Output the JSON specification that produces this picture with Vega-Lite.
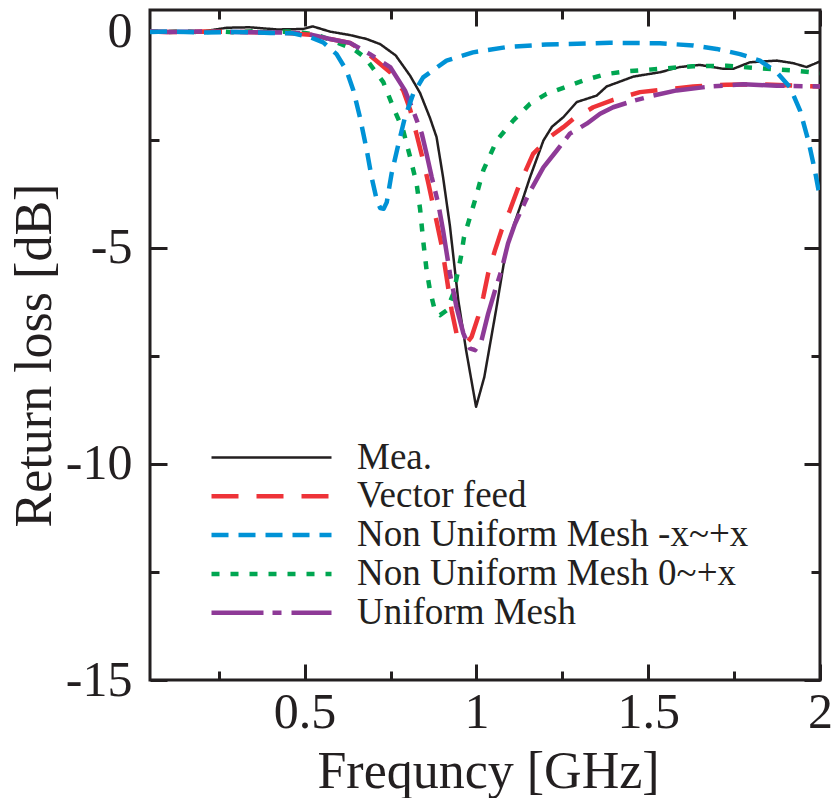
{
  "$schema": "https://vega.github.io/schema/vega-lite/v6.json",
  "width": 670,
  "height": 670,
  "autosize": "none",
  "padding": {"left": 150, "top": 10, "right": 15, "bottom": 118},
  "background": "white",
  "config": {
    "view": {"stroke": "#231F20", "strokeWidth": 3},
    "font": "Liberation Serif",
    "axis": {
      "grid": false, "domain": false, "tickColor": "#231F20", "tickWidth": 3,
      "labelFont": "Liberation Serif", "titleFont": "Liberation Serif",
      "labelColor": "#231F20", "titleColor": "#231F20",
      "labelFontSize": 50, "titleFontSize": 52, "titleFontWeight": "normal",
      "labelFlush": false, "labelOverlap": false, "labelBound": false
    }
  },
  "datasets": {
    "one": [{"freq": 1, "rl": 0}],
    "curves": [
      {"series": "Mea.", "freq": 0.05, "rl": 0.0},
      {"series": "Mea.", "freq": 0.1, "rl": 0.0},
      {"series": "Mea.", "freq": 0.15, "rl": -0.01},
      {"series": "Mea.", "freq": 0.2, "rl": 0.0},
      {"series": "Mea.", "freq": 0.274, "rl": 0.09},
      {"series": "Mea.", "freq": 0.34, "rl": 0.1},
      {"series": "Mea.", "freq": 0.42, "rl": 0.05},
      {"series": "Mea.", "freq": 0.495, "rl": 0.06},
      {"series": "Mea.", "freq": 0.524, "rl": 0.12},
      {"series": "Mea.", "freq": 0.574, "rl": 0.0},
      {"series": "Mea.", "freq": 0.632, "rl": -0.08},
      {"series": "Mea.", "freq": 0.68, "rl": -0.17},
      {"series": "Mea.", "freq": 0.72, "rl": -0.29},
      {"series": "Mea.", "freq": 0.765, "rl": -0.55},
      {"series": "Mea.", "freq": 0.807, "rl": -1.02},
      {"series": "Mea.", "freq": 0.836, "rl": -1.42},
      {"series": "Mea.", "freq": 0.865, "rl": -2.0},
      {"series": "Mea.", "freq": 0.884, "rl": -2.44},
      {"series": "Mea.", "freq": 0.903, "rl": -3.37},
      {"series": "Mea.", "freq": 0.923, "rl": -4.5},
      {"series": "Mea.", "freq": 0.947, "rl": -6.2},
      {"series": "Mea.", "freq": 0.97, "rl": -7.37},
      {"series": "Mea.", "freq": 0.999, "rl": -8.68},
      {"series": "Mea.", "freq": 1.023, "rl": -7.99},
      {"series": "Mea.", "freq": 1.057, "rl": -6.45},
      {"series": "Mea.", "freq": 1.086, "rl": -5.06},
      {"series": "Mea.", "freq": 1.112, "rl": -4.4},
      {"series": "Mea.", "freq": 1.134, "rl": -3.9},
      {"series": "Mea.", "freq": 1.156, "rl": -3.37},
      {"series": "Mea.", "freq": 1.195, "rl": -2.52},
      {"series": "Mea.", "freq": 1.22, "rl": -2.2},
      {"series": "Mea.", "freq": 1.253, "rl": -1.98},
      {"series": "Mea.", "freq": 1.292, "rl": -1.63},
      {"series": "Mea.", "freq": 1.35, "rl": -1.48},
      {"series": "Mea.", "freq": 1.379, "rl": -1.27},
      {"series": "Mea.", "freq": 1.457, "rl": -1.04},
      {"series": "Mea.", "freq": 1.534, "rl": -0.94},
      {"series": "Mea.", "freq": 1.592, "rl": -0.82},
      {"series": "Mea.", "freq": 1.65, "rl": -0.77},
      {"series": "Mea.", "freq": 1.718, "rl": -0.86},
      {"series": "Mea.", "freq": 1.748, "rl": -0.86},
      {"series": "Mea.", "freq": 1.796, "rl": -0.71},
      {"series": "Mea.", "freq": 1.874, "rl": -0.67},
      {"series": "Mea.", "freq": 1.922, "rl": -0.73},
      {"series": "Mea.", "freq": 1.961, "rl": -0.82},
      {"series": "Mea.", "freq": 2.0, "rl": -0.69},

      {"series": "Non Uniform Mesh 0~+x", "freq": 0.05, "rl": 0.0},
      {"series": "Non Uniform Mesh 0~+x", "freq": 0.1, "rl": -0.01},
      {"series": "Non Uniform Mesh 0~+x", "freq": 0.15, "rl": 0.01},
      {"series": "Non Uniform Mesh 0~+x", "freq": 0.2, "rl": -0.02},
      {"series": "Non Uniform Mesh 0~+x", "freq": 0.25, "rl": 0.01},
      {"series": "Non Uniform Mesh 0~+x", "freq": 0.3, "rl": -0.02},
      {"series": "Non Uniform Mesh 0~+x", "freq": 0.35, "rl": 0.01},
      {"series": "Non Uniform Mesh 0~+x", "freq": 0.4, "rl": -0.02},
      {"series": "Non Uniform Mesh 0~+x", "freq": 0.45, "rl": 0.0},
      {"series": "Non Uniform Mesh 0~+x", "freq": 0.5, "rl": -0.03},
      {"series": "Non Uniform Mesh 0~+x", "freq": 0.535, "rl": -0.07},
      {"series": "Non Uniform Mesh 0~+x", "freq": 0.593, "rl": -0.25},
      {"series": "Non Uniform Mesh 0~+x", "freq": 0.642, "rl": -0.4},
      {"series": "Non Uniform Mesh 0~+x", "freq": 0.676, "rl": -0.6},
      {"series": "Non Uniform Mesh 0~+x", "freq": 0.7, "rl": -0.86},
      {"series": "Non Uniform Mesh 0~+x", "freq": 0.729, "rl": -1.17},
      {"series": "Non Uniform Mesh 0~+x", "freq": 0.758, "rl": -1.75},
      {"series": "Non Uniform Mesh 0~+x", "freq": 0.787, "rl": -2.29},
      {"series": "Non Uniform Mesh 0~+x", "freq": 0.807, "rl": -2.9},
      {"series": "Non Uniform Mesh 0~+x", "freq": 0.826, "rl": -3.52},
      {"series": "Non Uniform Mesh 0~+x", "freq": 0.836, "rl": -4.1},
      {"series": "Non Uniform Mesh 0~+x", "freq": 0.845, "rl": -4.83},
      {"series": "Non Uniform Mesh 0~+x", "freq": 0.855, "rl": -5.52},
      {"series": "Non Uniform Mesh 0~+x", "freq": 0.865, "rl": -5.99},
      {"series": "Non Uniform Mesh 0~+x", "freq": 0.879, "rl": -6.45},
      {"series": "Non Uniform Mesh 0~+x", "freq": 0.894, "rl": -6.56},
      {"series": "Non Uniform Mesh 0~+x", "freq": 0.913, "rl": -6.45},
      {"series": "Non Uniform Mesh 0~+x", "freq": 0.933, "rl": -6.06},
      {"series": "Non Uniform Mesh 0~+x", "freq": 0.945, "rl": -5.6},
      {"series": "Non Uniform Mesh 0~+x", "freq": 0.955, "rl": -5.21},
      {"series": "Non Uniform Mesh 0~+x", "freq": 0.964, "rl": -4.75},
      {"series": "Non Uniform Mesh 0~+x", "freq": 0.981, "rl": -4.3},
      {"series": "Non Uniform Mesh 0~+x", "freq": 0.996, "rl": -3.9},
      {"series": "Non Uniform Mesh 0~+x", "freq": 1.02, "rl": -3.21},
      {"series": "Non Uniform Mesh 0~+x", "freq": 1.059, "rl": -2.52},
      {"series": "Non Uniform Mesh 0~+x", "freq": 1.107, "rl": -2.06},
      {"series": "Non Uniform Mesh 0~+x", "freq": 1.156, "rl": -1.67},
      {"series": "Non Uniform Mesh 0~+x", "freq": 1.204, "rl": -1.44},
      {"series": "Non Uniform Mesh 0~+x", "freq": 1.253, "rl": -1.3},
      {"series": "Non Uniform Mesh 0~+x", "freq": 1.311, "rl": -1.13},
      {"series": "Non Uniform Mesh 0~+x", "freq": 1.379, "rl": -0.98},
      {"series": "Non Uniform Mesh 0~+x", "freq": 1.437, "rl": -0.92},
      {"series": "Non Uniform Mesh 0~+x", "freq": 1.534, "rl": -0.86},
      {"series": "Non Uniform Mesh 0~+x", "freq": 1.631, "rl": -0.8},
      {"series": "Non Uniform Mesh 0~+x", "freq": 1.728, "rl": -0.79},
      {"series": "Non Uniform Mesh 0~+x", "freq": 1.825, "rl": -0.85},
      {"series": "Non Uniform Mesh 0~+x", "freq": 1.922, "rl": -0.9},
      {"series": "Non Uniform Mesh 0~+x", "freq": 2.0, "rl": -0.96},

      {"series": "Vector feed", "freq": 0.05, "rl": 0.0},
      {"series": "Vector feed", "freq": 0.1, "rl": -0.01},
      {"series": "Vector feed", "freq": 0.2, "rl": 0.0},
      {"series": "Vector feed", "freq": 0.3, "rl": -0.01},
      {"series": "Vector feed", "freq": 0.4, "rl": -0.02},
      {"series": "Vector feed", "freq": 0.45, "rl": -0.03},
      {"series": "Vector feed", "freq": 0.516, "rl": -0.07},
      {"series": "Vector feed", "freq": 0.574, "rl": -0.17},
      {"series": "Vector feed", "freq": 0.632, "rl": -0.26},
      {"series": "Vector feed", "freq": 0.69, "rl": -0.55},
      {"series": "Vector feed", "freq": 0.749, "rl": -0.94},
      {"series": "Vector feed", "freq": 0.787, "rl": -1.36},
      {"series": "Vector feed", "freq": 0.807, "rl": -1.8},
      {"series": "Vector feed", "freq": 0.826, "rl": -2.38},
      {"series": "Vector feed", "freq": 0.845, "rl": -2.98},
      {"series": "Vector feed", "freq": 0.86, "rl": -3.5},
      {"series": "Vector feed", "freq": 0.879, "rl": -4.2},
      {"series": "Vector feed", "freq": 0.899, "rl": -4.95},
      {"series": "Vector feed", "freq": 0.913, "rl": -5.67},
      {"series": "Vector feed", "freq": 0.928, "rl": -6.45},
      {"series": "Vector feed", "freq": 0.942, "rl": -6.98},
      {"series": "Vector feed", "freq": 0.958, "rl": -7.18},
      {"series": "Vector feed", "freq": 0.971, "rl": -7.21},
      {"series": "Vector feed", "freq": 0.986, "rl": -7.06},
      {"series": "Vector feed", "freq": 1.005, "rl": -6.6},
      {"series": "Vector feed", "freq": 1.02, "rl": -6.14},
      {"series": "Vector feed", "freq": 1.034, "rl": -5.6},
      {"series": "Vector feed", "freq": 1.054, "rl": -5.06},
      {"series": "Vector feed", "freq": 1.073, "rl": -4.6},
      {"series": "Vector feed", "freq": 1.097, "rl": -4.14},
      {"series": "Vector feed", "freq": 1.126, "rl": -3.52},
      {"series": "Vector feed", "freq": 1.165, "rl": -2.83},
      {"series": "Vector feed", "freq": 1.213, "rl": -2.44},
      {"series": "Vector feed", "freq": 1.253, "rl": -2.21},
      {"series": "Vector feed", "freq": 1.282, "rl": -2.02},
      {"series": "Vector feed", "freq": 1.34, "rl": -1.75},
      {"series": "Vector feed", "freq": 1.398, "rl": -1.58},
      {"series": "Vector feed", "freq": 1.476, "rl": -1.4},
      {"series": "Vector feed", "freq": 1.534, "rl": -1.35},
      {"series": "Vector feed", "freq": 1.631, "rl": -1.27},
      {"series": "Vector feed", "freq": 1.728, "rl": -1.23},
      {"series": "Vector feed", "freq": 1.825, "rl": -1.22},
      {"series": "Vector feed", "freq": 1.922, "rl": -1.25},
      {"series": "Vector feed", "freq": 2.0, "rl": -1.27},

      {"series": "Uniform Mesh", "freq": 0.05, "rl": 0.0},
      {"series": "Uniform Mesh", "freq": 0.1, "rl": -0.01},
      {"series": "Uniform Mesh", "freq": 0.2, "rl": 0.0},
      {"series": "Uniform Mesh", "freq": 0.3, "rl": -0.01},
      {"series": "Uniform Mesh", "freq": 0.4, "rl": -0.02},
      {"series": "Uniform Mesh", "freq": 0.45, "rl": -0.02},
      {"series": "Uniform Mesh", "freq": 0.506, "rl": -0.05},
      {"series": "Uniform Mesh", "freq": 0.574, "rl": -0.17},
      {"series": "Uniform Mesh", "freq": 0.632, "rl": -0.26},
      {"series": "Uniform Mesh", "freq": 0.69, "rl": -0.52},
      {"series": "Uniform Mesh", "freq": 0.749, "rl": -0.82},
      {"series": "Uniform Mesh", "freq": 0.792, "rl": -1.36},
      {"series": "Uniform Mesh", "freq": 0.816, "rl": -1.83},
      {"series": "Uniform Mesh", "freq": 0.841, "rl": -2.36},
      {"series": "Uniform Mesh", "freq": 0.855, "rl": -2.83},
      {"series": "Uniform Mesh", "freq": 0.87, "rl": -3.37},
      {"series": "Uniform Mesh", "freq": 0.889, "rl": -3.98},
      {"series": "Uniform Mesh", "freq": 0.903, "rl": -4.6},
      {"series": "Uniform Mesh", "freq": 0.923, "rl": -5.6},
      {"series": "Uniform Mesh", "freq": 0.942, "rl": -6.37},
      {"series": "Uniform Mesh", "freq": 0.962, "rl": -6.98},
      {"series": "Uniform Mesh", "freq": 0.981, "rl": -7.33},
      {"series": "Uniform Mesh", "freq": 0.996, "rl": -7.37},
      {"series": "Uniform Mesh", "freq": 1.015, "rl": -7.14},
      {"series": "Uniform Mesh", "freq": 1.034, "rl": -6.53},
      {"series": "Uniform Mesh", "freq": 1.054, "rl": -5.99},
      {"series": "Uniform Mesh", "freq": 1.073, "rl": -5.52},
      {"series": "Uniform Mesh", "freq": 1.092, "rl": -4.9},
      {"series": "Uniform Mesh", "freq": 1.112, "rl": -4.45},
      {"series": "Uniform Mesh", "freq": 1.141, "rl": -3.95},
      {"series": "Uniform Mesh", "freq": 1.156, "rl": -3.7},
      {"series": "Uniform Mesh", "freq": 1.195, "rl": -3.14},
      {"series": "Uniform Mesh", "freq": 1.234, "rl": -2.75},
      {"series": "Uniform Mesh", "freq": 1.272, "rl": -2.36},
      {"series": "Uniform Mesh", "freq": 1.321, "rl": -2.13},
      {"series": "Uniform Mesh", "freq": 1.36, "rl": -1.9},
      {"series": "Uniform Mesh", "freq": 1.398, "rl": -1.75},
      {"series": "Uniform Mesh", "freq": 1.457, "rl": -1.6},
      {"series": "Uniform Mesh", "freq": 1.515, "rl": -1.48},
      {"series": "Uniform Mesh", "freq": 1.583, "rl": -1.36},
      {"series": "Uniform Mesh", "freq": 1.68, "rl": -1.27},
      {"series": "Uniform Mesh", "freq": 1.777, "rl": -1.22},
      {"series": "Uniform Mesh", "freq": 1.874, "rl": -1.25},
      {"series": "Uniform Mesh", "freq": 2.0, "rl": -1.27},

      {"series": "Non Uniform Mesh -x~+x", "freq": 0.05, "rl": -0.01},
      {"series": "Non Uniform Mesh -x~+x", "freq": 0.1, "rl": 0.0},
      {"series": "Non Uniform Mesh -x~+x", "freq": 0.2, "rl": -0.02},
      {"series": "Non Uniform Mesh -x~+x", "freq": 0.3, "rl": -0.01},
      {"series": "Non Uniform Mesh -x~+x", "freq": 0.4, "rl": -0.03},
      {"series": "Non Uniform Mesh -x~+x", "freq": 0.466, "rl": -0.04},
      {"series": "Non Uniform Mesh -x~+x", "freq": 0.516, "rl": -0.13},
      {"series": "Non Uniform Mesh -x~+x", "freq": 0.554, "rl": -0.25},
      {"series": "Non Uniform Mesh -x~+x", "freq": 0.593, "rl": -0.52},
      {"series": "Non Uniform Mesh -x~+x", "freq": 0.622, "rl": -0.9},
      {"series": "Non Uniform Mesh -x~+x", "freq": 0.642, "rl": -1.36},
      {"series": "Non Uniform Mesh -x~+x", "freq": 0.661, "rl": -1.98},
      {"series": "Non Uniform Mesh -x~+x", "freq": 0.681, "rl": -2.75},
      {"series": "Non Uniform Mesh -x~+x", "freq": 0.695, "rl": -3.37},
      {"series": "Non Uniform Mesh -x~+x", "freq": 0.71, "rl": -3.9},
      {"series": "Non Uniform Mesh -x~+x", "freq": 0.72, "rl": -4.08},
      {"series": "Non Uniform Mesh -x~+x", "freq": 0.73, "rl": -4.1},
      {"series": "Non Uniform Mesh -x~+x", "freq": 0.739, "rl": -3.95},
      {"series": "Non Uniform Mesh -x~+x", "freq": 0.753, "rl": -3.29},
      {"series": "Non Uniform Mesh -x~+x", "freq": 0.773, "rl": -2.6},
      {"series": "Non Uniform Mesh -x~+x", "freq": 0.792, "rl": -1.98},
      {"series": "Non Uniform Mesh -x~+x", "freq": 0.816, "rl": -1.44},
      {"series": "Non Uniform Mesh -x~+x", "freq": 0.845, "rl": -1.06},
      {"series": "Non Uniform Mesh -x~+x", "freq": 0.913, "rl": -0.67},
      {"series": "Non Uniform Mesh -x~+x", "freq": 0.99, "rl": -0.48},
      {"series": "Non Uniform Mesh -x~+x", "freq": 1.086, "rl": -0.36},
      {"series": "Non Uniform Mesh -x~+x", "freq": 1.203, "rl": -0.3},
      {"series": "Non Uniform Mesh -x~+x", "freq": 1.389, "rl": -0.26},
      {"series": "Non Uniform Mesh -x~+x", "freq": 1.534, "rl": -0.27},
      {"series": "Non Uniform Mesh -x~+x", "freq": 1.631, "rl": -0.32},
      {"series": "Non Uniform Mesh -x~+x", "freq": 1.699, "rl": -0.4},
      {"series": "Non Uniform Mesh -x~+x", "freq": 1.767, "rl": -0.52},
      {"series": "Non Uniform Mesh -x~+x", "freq": 1.825, "rl": -0.67},
      {"series": "Non Uniform Mesh -x~+x", "freq": 1.874, "rl": -0.94},
      {"series": "Non Uniform Mesh -x~+x", "freq": 1.913, "rl": -1.29},
      {"series": "Non Uniform Mesh -x~+x", "freq": 1.942, "rl": -1.83},
      {"series": "Non Uniform Mesh -x~+x", "freq": 1.966, "rl": -2.52},
      {"series": "Non Uniform Mesh -x~+x", "freq": 1.985, "rl": -3.21},
      {"series": "Non Uniform Mesh -x~+x", "freq": 2.0, "rl": -3.85}
    ]
  },
  "layer": [
    {
      "data": {"name": "curves"},
      "mark": {"type": "line", "clip": true, "strokeCap": "butt", "strokeJoin": "round"},
      "encoding": {
        "x": {
          "field": "freq", "type": "quantitative",
          "scale": {"domain": [0.05, 2], "nice": false, "zero": false},
          "axis": {
            "orient": "bottom", "values": [0.5, 1, 1.5, 2], "tickSize": -16,
            "labelPadding": 63, "labelBaseline": "alphabetic", "labelExpr": "'' + datum.value",
            "title": "Frequncy [GHz]", "titleX": 338, "titleY": 107,
            "titleBaseline": "alphabetic", "titleAlign": "center", "titleAngle": 0
          }
        },
        "y": {
          "field": "rl", "type": "quantitative",
          "scale": {"domain": [-15, 0.5], "nice": false, "zero": false},
          "axis": {
            "orient": "left", "values": [0, -5, -10, -15], "tickSize": -17,
            "labelPadding": 35, "labelBaseline": "middle", "labelAlign": "right",
            "labelExpr": "'' + datum.value",
            "title": "Return loss [dB]", "titleX": -100, "titleY": 345,
            "titleAngle": -90, "titleBaseline": "alphabetic", "titleAlign": "center"
          }
        },
        "color": {
          "field": "series", "type": "nominal",
          "scale": {
            "domain": ["Mea.", "Vector feed", "Non Uniform Mesh -x~+x", "Non Uniform Mesh 0~+x", "Uniform Mesh"],
            "range": ["#231F20", "#EE3338", "#0092D6", "#00A651", "#8E3A97"]
          },
          "legend": {
            "orient": "none", "legendX": 103, "legendY": 429, "title": null,
            "symbolType": "M-4,0H4", "symbolSize": 900, "symbolStrokeWidth": 4,
            "labelFont": "Liberation Serif", "labelFontSize": 37, "labelColor": "#231F20",
            "labelOffset": 67, "rowPadding": 0.8, "labelLimit": 1000, "padding": 0
          }
        },
        "strokeDash": {
          "field": "series", "type": "nominal",
          "scale": {
            "domain": ["Mea.", "Vector feed", "Non Uniform Mesh -x~+x", "Non Uniform Mesh 0~+x", "Uniform Mesh"],
            "range": [[1, 0], [27, 18], [17, 10], [8, 11], [52, 9, 9, 10]]
          },
          "legend": {
            "orient": "none", "legendX": 103, "legendY": 429, "title": null,
            "symbolType": "M-4,0H4", "symbolSize": 900, "symbolStrokeWidth": 4,
            "labelFont": "Liberation Serif", "labelFontSize": 37, "labelColor": "#231F20",
            "labelOffset": 67, "rowPadding": 0.8, "labelLimit": 1000, "padding": 0
          }
        },
        "strokeWidth": {
          "field": "series", "type": "nominal",
          "scale": {
            "type": "ordinal",
            "domain": ["Mea.", "Vector feed", "Non Uniform Mesh -x~+x", "Non Uniform Mesh 0~+x", "Uniform Mesh"],
            "range": [2.5, 4.5, 4.5, 4.5, 4.5]
          },
          "legend": null
        }
      }
    },
    {
      "data": {"name": "one"},
      "mark": {"type": "point", "opacity": 0},
      "encoding": {
        "x": {"field": "freq", "type": "quantitative", "scale": {"domain": [0.05, 2], "nice": false, "zero": false},
          "axis": {"orient": "bottom", "values": [0.25, 0.75, 1.25, 1.75], "tickSize": -9, "labels": false, "title": null}},
        "y": {"field": "rl", "type": "quantitative", "scale": {"domain": [-15, 0.5], "nice": false, "zero": false},
          "axis": {"orient": "left", "values": [-2.5, -7.5, -12.5], "tickSize": -9, "labels": false, "title": null}}
      }
    },
    {
      "data": {"name": "one"},
      "mark": {"type": "point", "opacity": 0},
      "encoding": {
        "x": {"field": "freq", "type": "quantitative", "scale": {"domain": [0.05, 2], "nice": false, "zero": false},
          "axis": {"orient": "top", "values": [0.5, 1, 1.5, 2], "tickSize": -16, "labels": false, "title": null}},
        "y": {"field": "rl", "type": "quantitative", "scale": {"domain": [-15, 0.5], "nice": false, "zero": false},
          "axis": {"orient": "right", "values": [0, -5, -10, -15], "tickSize": -16, "labels": false, "title": null}}
      }
    },
    {
      "data": {"name": "one"},
      "mark": {"type": "point", "opacity": 0},
      "encoding": {
        "x": {"field": "freq", "type": "quantitative", "scale": {"domain": [0.05, 2], "nice": false, "zero": false},
          "axis": {"orient": "top", "values": [0.25, 0.75, 1.25, 1.75], "tickSize": -9, "labels": false, "title": null}},
        "y": {"field": "rl", "type": "quantitative", "scale": {"domain": [-15, 0.5], "nice": false, "zero": false},
          "axis": {"orient": "right", "values": [-2.5, -7.5, -12.5], "tickSize": -9, "labels": false, "title": null}}
      }
    }
  ],
  "resolve": {
    "scale": {"x": "shared", "y": "shared"},
    "axis": {"x": "independent", "y": "independent"}
  }
}
